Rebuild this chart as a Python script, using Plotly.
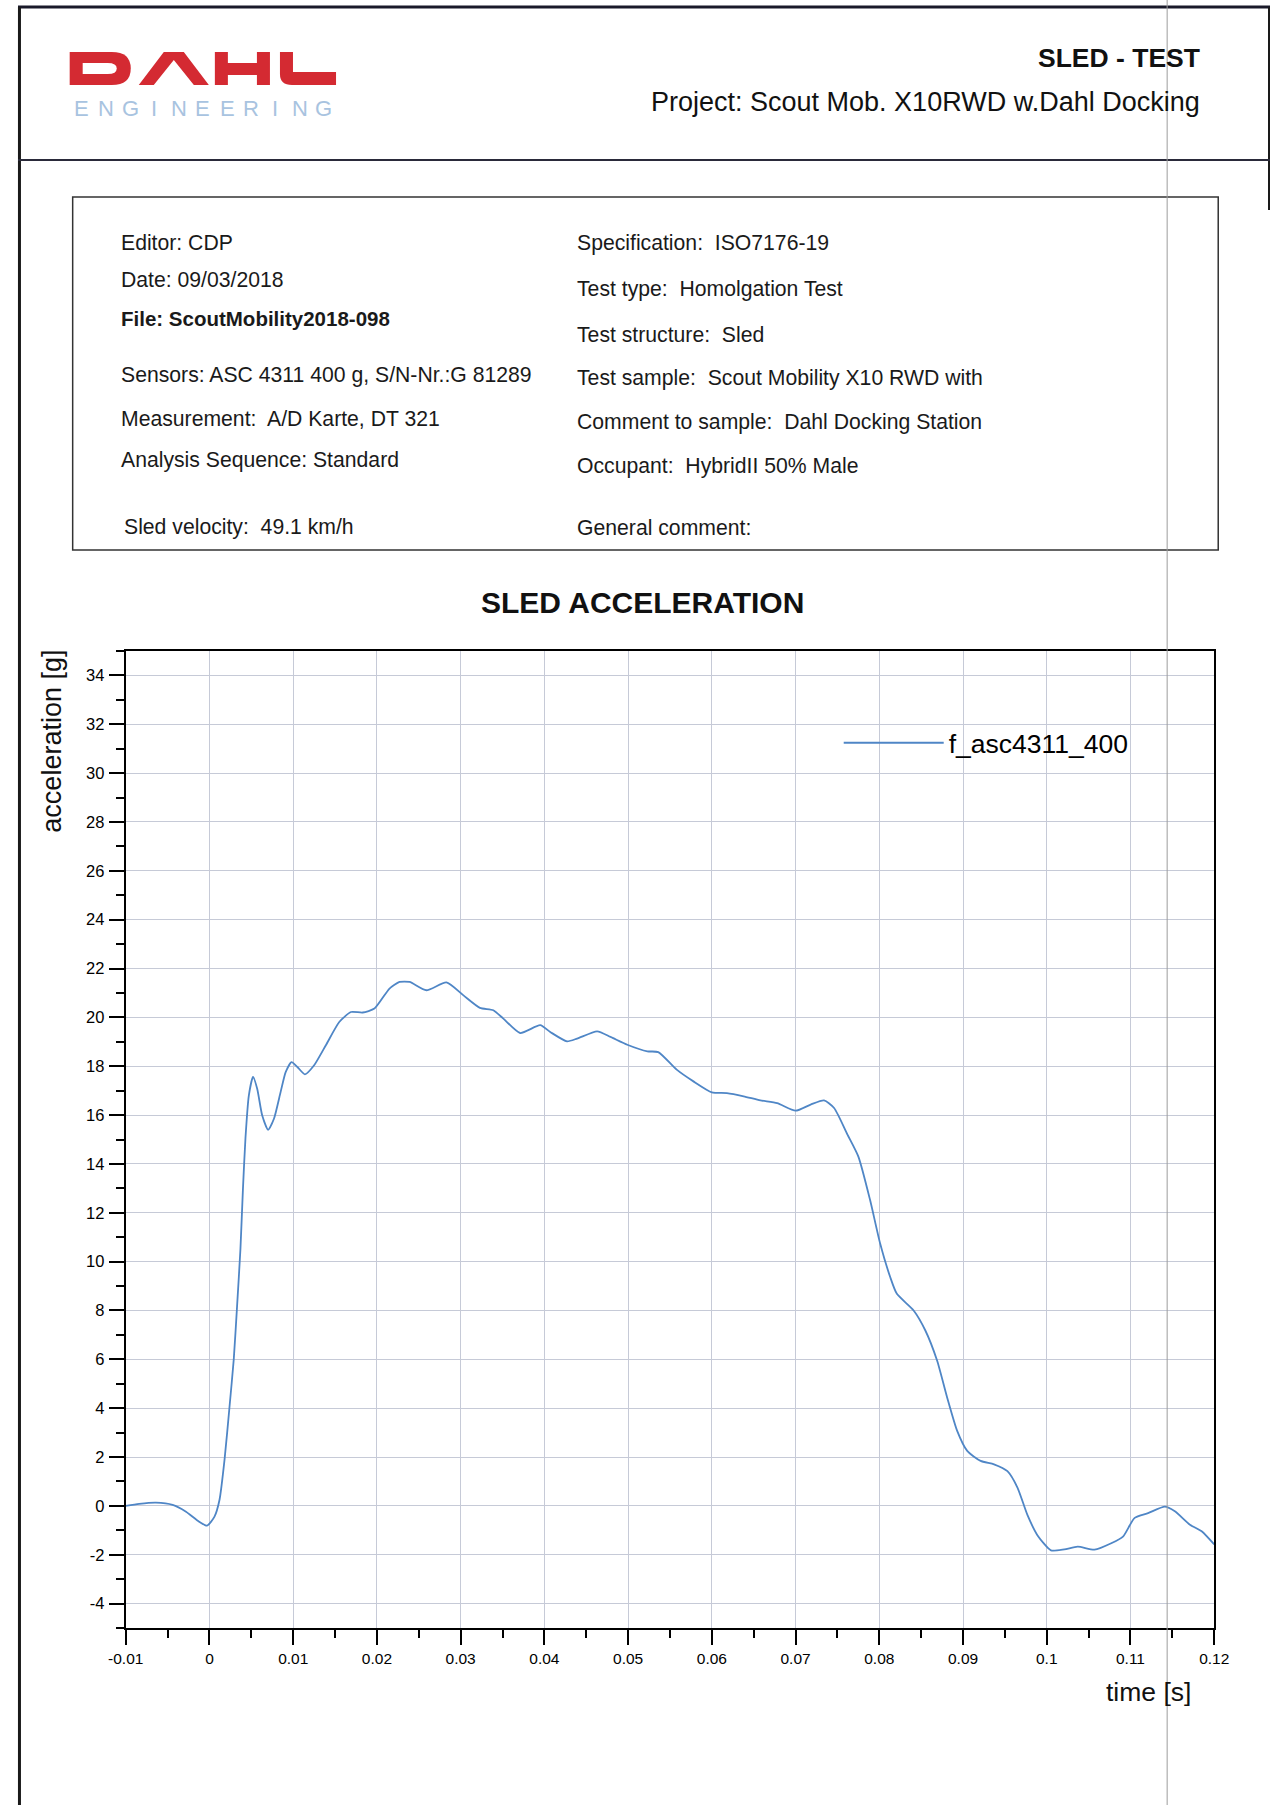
import plotly.graph_objects as go

W, H = 1285, 1805

# ---------------- data ----------------
time_s = [-0.01, -0.0084, -0.0064, -0.0044, -0.0028, -0.0014, -0.0003, 0.0006, 0.0012, 0.0018,
          0.0024, 0.0029, 0.0033, 0.0037, 0.0040, 0.0043, 0.0047, 0.0052, 0.0057, 0.0063,
          0.0070, 0.0077, 0.0085, 0.0091, 0.0098, 0.0105, 0.0114, 0.0125, 0.0139, 0.0155,
          0.0169, 0.0183, 0.0197, 0.0215, 0.0227, 0.0239, 0.0259, 0.0283, 0.0303, 0.0323,
          0.0339, 0.0351, 0.0371, 0.0395, 0.0407, 0.0427, 0.0439, 0.0463, 0.0479, 0.0499,
          0.0523, 0.0536, 0.0558, 0.0578, 0.0600, 0.0618, 0.0638, 0.0658, 0.0678, 0.0700,
          0.0718, 0.0734, 0.0746, 0.0762, 0.0775, 0.0789, 0.0801, 0.0813, 0.0821, 0.0841,
          0.0855, 0.0869, 0.0881, 0.0893, 0.0905, 0.0921, 0.0937, 0.0953, 0.0965, 0.0977,
          0.0989, 0.1005, 0.1021, 0.1037, 0.1057, 0.1077, 0.1091, 0.1105, 0.1121, 0.1141,
          0.1153, 0.1171, 0.1185, 0.1200]
accel_g = [0.00, 0.08, 0.13, 0.04, -0.24, -0.61, -0.81, -0.44, 0.25, 1.89,
           4.08, 6.00, 8.20, 10.53, 13.00, 15.06, 16.80, 17.56, 17.08, 15.98,
           15.40, 15.85, 16.95, 17.76, 18.17, 17.97, 17.67, 18.04, 18.86, 19.81,
           20.22, 20.20, 20.36, 21.18, 21.45, 21.45, 21.11, 21.43, 20.91, 20.39,
           20.29, 19.95, 19.36, 19.68, 19.40, 19.02, 19.13, 19.43, 19.20, 18.88,
           18.61, 18.58, 17.86, 17.38, 16.93, 16.90, 16.77, 16.60, 16.49, 16.18,
           16.43, 16.60, 16.29, 15.20, 14.30, 12.52, 10.74, 9.37, 8.68, 8.00,
           7.18, 5.95, 4.44, 3.07, 2.25, 1.84, 1.70, 1.42, 0.75, -0.38,
           -1.21, -1.82, -1.78, -1.67, -1.79, -1.53, -1.26, -0.49, -0.30, -0.03,
           -0.22, -0.77, -1.04, -1.58]

series_name = "f_asc4311_400"

x_tick_vals = [-0.01, 0, 0.01, 0.02, 0.03, 0.04, 0.05, 0.06, 0.07, 0.08, 0.09, 0.1, 0.11, 0.12]
x_tick_text = ["-0.01", "0", "0.01", "0.02", "0.03", "0.04", "0.05", "0.06", "0.07", "0.08",
               "0.09", "0.1", "0.11", "0.12"]
y_tick_vals = [-4, -2, 0, 2, 4, 6, 8, 10, 12, 14, 16, 18, 20, 22, 24, 26, 28, 30, 32, 34]
y_tick_text = [str(v) for v in y_tick_vals]

info_left = ["Editor: CDP", "Date: 09/03/2018", "<b>File: ScoutMobility2018-098</b>",
             "Sensors: ASC 4311 400 g, S/N-Nr.:G 81289", "Measurement:\u00a0 A/D Karte, DT 321",
             "Analysis Sequence: Standard", "Sled velocity:\u00a0 49.1 km/h"]
info_right = ["Specification:\u00a0 ISO7176-19", "Test type:\u00a0 Homolgation Test",
              "Test structure:\u00a0 Sled", "Test sample:\u00a0 Scout Mobility X10 RWD with",
              "Comment to sample:\u00a0 Dahl Docking Station", "Occupant:\u00a0 HybridII 50% Male",
              "General comment:"]

# ---------------- layout helpers (page pixels -> paper) ----------------
# The photographed page shows the figure horizontally inset (about 18 px each side),
# so horizontal page positions are mapped into figure pixels accordingly.
X_OFF, X_SCALE = 18.4, 0.973

def px(x):
    f = (x - X_OFF) / X_SCALE
    return min(max(f / W, 0.0), 1.0)

def py(y):
    return 1 - y / H

def path(cmds):
    out = []
    for c, pts in cmds:
        if c == "Z":
            out.append("Z")
        else:
            out.append(c + " ".join(f"{px(x):.5f},{py(y):.5f}" for x, y in pts))
    return " ".join(out)

FONT = "Liberation Sans, Arial, sans-serif"

# plot area in page pixels
PL, PR, PT, PB = 126, 1213, 651, 1628

fig = go.Figure()
fig.add_trace(go.Scatter(
    x=time_s, y=accel_g, mode="lines", name=series_name,
    line=dict(color="#4f86c6", width=1.8, shape="spline", smoothing=0.6),
    showlegend=True,
))

grid_col = "#c6cad7"
fig.update_layout(
    width=W, height=H,
    margin=dict(l=0, r=0, t=0, b=0),
    paper_bgcolor="white", plot_bgcolor="white",
    font=dict(family=FONT, color="black"),
    xaxis=dict(
        domain=[px(PL), px(PR)], range=[-0.01, 0.12],
        tickvals=x_tick_vals, ticktext=x_tick_text,
        ticks="outside", ticklen=15, tickwidth=1.5, tickcolor="black",
        minor=dict(dtick=0.005, tick0=0, ticks="outside", ticklen=8, tickwidth=1.5,
                   tickcolor="black", showgrid=False),
        showgrid=True, gridcolor=grid_col, gridwidth=1,
        showline=True, linecolor="black", linewidth=2, mirror=True,
        zeroline=False,
        tickfont=dict(size=15.5, color="black", family=FONT),
    ),
    yaxis=dict(
        domain=[py(PB), py(PT)], range=[-5, 35],
        tickvals=y_tick_vals, ticktext=y_tick_text,
        ticks="outside", ticklen=15, tickwidth=1.5, tickcolor="black",
        minor=dict(dtick=1, tick0=0, ticks="outside", ticklen=8, tickwidth=1.5,
                   tickcolor="black", showgrid=False),
        showgrid=True, gridcolor=grid_col, gridwidth=1,
        showline=True, linecolor="black", linewidth=2, mirror=True,
        zeroline=False,
        tickfont=dict(size=16.5, color="black", family=FONT),
        ticklabelstandoff=1,
    ),
    legend=dict(
        x=px(838), y=py(743), xanchor="left", yanchor="middle",
        bgcolor="rgba(0,0,0,0)", borderwidth=0,
        font=dict(size=26.5, color="black", family=FONT),
        itemwidth=100,
    ),
)

RED = "#d42a32"
shapes = []
# page frame
shapes.append(dict(type="line", xref="paper", yref="paper", x0=0, x1=1, y0=py(7), y1=py(7),
                   line=dict(color="#1a1a2a", width=3)))
shapes.append(dict(type="line", xref="paper", yref="paper", x0=px(0) + 1.5 / W, x1=px(0) + 1.5 / W,
                   y0=py(7), y1=py(1805), line=dict(color="#1a1a1a", width=3)))
shapes.append(dict(type="line", xref="paper", yref="paper", x0=1 - 1 / W, x1=1 - 1 / W, y0=py(7), y1=py(210),
                   line=dict(color="#1a1a1a", width=2)))
# header separator
shapes.append(dict(type="line", xref="paper", yref="paper", x0=px(10), x1=px(1276), y0=py(160), y1=py(160),
                   line=dict(color="#2a2a3a", width=2)))
# info box
shapes.append(dict(type="rect", xref="paper", yref="paper", x0=px(73), x1=px(1217), y0=py(197), y1=py(550),
                   line=dict(color="#333333", width=1.5), fillcolor="rgba(0,0,0,0)"))
# scanner artefact vertical line
shapes.append(dict(type="line", xref="paper", yref="paper", x0=px(1166), x1=px(1166), y0=py(0), y1=py(1805),
                   line=dict(color="#9c9c9c", width=1)))

# logo "DAHL" drawn as blocky letter shapes
logo = [
    (RED, [("M", [(70, 52)]), ("L", [(112, 52)]), ("Q", [(131, 52), (131, 68.5)]),
           ("Q", [(131, 85), (112, 85)]), ("L", [(70, 85)]), ("Z", [])]),
    ("white", [("M", [(83, 63)]), ("L", [(108, 63)]), ("Q", [(117, 63), (117, 68.5)]),
               ("Q", [(117, 74), (108, 74)]), ("L", [(83, 74)]), ("Z", [])]),
    (RED, [("M", [(139, 85)]), ("L", [(164, 52)]), ("L", [(184, 52)]), ("L", [(209, 85)]),
           ("L", [(194, 85)]), ("L", [(174, 60)]), ("L", [(154, 85)]), ("Z", [])]),
    (RED, [("M", [(215, 52)]), ("L", [(228, 52)]), ("L", [(228, 63)]), ("L", [(257, 63)]),
           ("L", [(257, 52)]), ("L", [(270, 52)]), ("L", [(270, 85)]), ("L", [(257, 85)]),
           ("L", [(257, 75)]), ("L", [(228, 75)]), ("L", [(228, 85)]), ("L", [(215, 85)]), ("Z", [])]),
    (RED, [("M", [(280, 52)]), ("L", [(293, 52)]), ("L", [(293, 72)]), ("L", [(336, 72)]),
           ("L", [(336, 85)]), ("L", [(292, 85)]), ("Q", [(280, 85), (280, 74)]), ("Z", [])]),
]
for col, cmds in logo:
    shapes.append(dict(type="path", xref="paper", yref="paper", path=path(cmds),
                       fillcolor=col, line=dict(width=0)))
fig.update_layout(shapes=shapes)

ann = []
eng = "ENGINEERING"
step = (336 - 70) / len(eng)
for i, ch in enumerate(eng):
    ann.append(dict(text=ch, x=px(70 + step * (i + 0.5)), y=py(108), xref="paper", yref="paper",
                    showarrow=False, xanchor="center", yanchor="middle",
                    font=dict(family=FONT, size=22, color="#a8c3e0")))
ann.append(dict(text="<b>SLED - TEST</b>", x=px(1201), y=py(58), xref="paper", yref="paper",
                showarrow=False, xanchor="right", yanchor="middle",
                font=dict(family=FONT, size=26.5, color="#111111")))
ann.append(dict(text="Project: Scout Mob. X10RWD w.Dahl Docking", x=px(1201), y=py(102),
                xref="paper", yref="paper", showarrow=False, xanchor="right", yanchor="middle",
                font=dict(family=FONT, size=27, color="#111111")))
left_y = [243, 280, 318, 375, 418, 460, 527]
right_y = [243, 289, 334, 378, 422, 466, 527]
left_x = [119, 119, 119, 119, 119, 119, 122]
for t, yy, xx in zip(info_left, left_y, left_x):
    ann.append(dict(text=t, x=px(xx), y=py(yy), xref="paper", yref="paper", showarrow=False,
                    xanchor="left", yanchor="middle",
                    font=dict(family=FONT, size=20.5 if t.startswith("<b>") else 21.2, color="#1a1a1a")))
for t, yy in zip(info_right, right_y):
    ann.append(dict(text=t, x=px(575), y=py(yy), xref="paper", yref="paper", showarrow=False,
                    xanchor="left", yanchor="middle",
                    font=dict(family=FONT, size=21.2, color="#1a1a1a")))
ann.append(dict(text="<b>SLED ACCELERATION</b>", x=px(642), y=py(603), xref="paper", yref="paper",
                showarrow=False, xanchor="center", yanchor="middle",
                font=dict(family=FONT, size=30, color="#111111")))
ann.append(dict(text="acceleration [g]", x=px(52), y=py(741), xref="paper", yref="paper",
                showarrow=False, textangle=-90, xanchor="center", yanchor="middle",
                font=dict(family=FONT, size=27, color="#111111")))
ann.append(dict(text="time [s]", x=px(1147), y=py(1692), xref="paper", yref="paper",
                showarrow=False, xanchor="center", yanchor="middle",
                font=dict(family=FONT, size=26.5, color="#111111")))
fig.update_layout(annotations=ann)

fig.write_html(
    "out.html",
    config={"displayModeBar": False},
    post_script="document.body.style.margin='0px';document.body.style.overflow='hidden';"
                "document.documentElement.style.overflow='hidden';",
)
